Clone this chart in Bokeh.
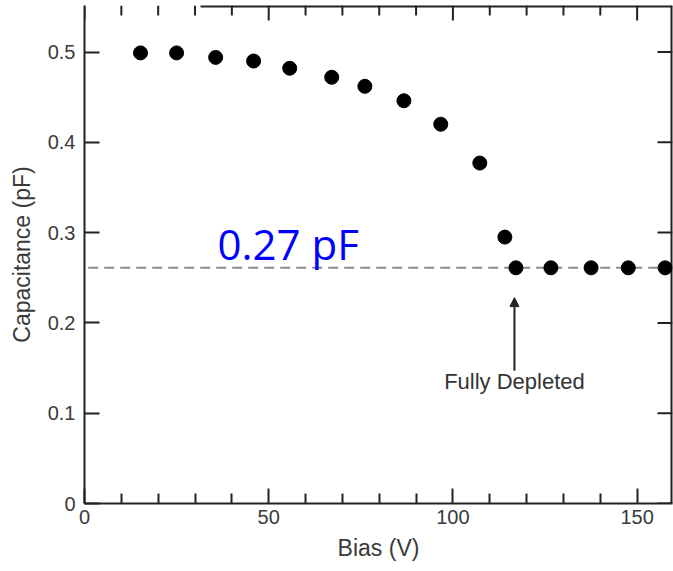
from bokeh.plotting import figure
from bokeh.models import Range1d, FixedTicker, Label, Arrow, NormalHead
from bokeh.embed import file_html
from bokeh.resources import INLINE

# ---- data ----
bias = [15.2, 25.0, 35.6, 45.9, 55.7, 67.1, 76.1, 86.7, 96.7, 107.3,
        114.1, 117.1, 126.6, 137.5, 147.6, 157.6]
capacitance = [0.499, 0.499, 0.494, 0.490, 0.482, 0.472, 0.462, 0.446, 0.420, 0.377,
               0.295, 0.261, 0.261, 0.261, 0.261, 0.261]
full_depletion_level = 0.261
dash_x = [1.0, 160.0]
x_ticks = [0, 50, 100, 150]
x_minor_ticks = [10, 20, 30, 40, 60, 70, 80, 90, 110, 120, 130, 140]
y_ticks = [0, 0.1, 0.2, 0.3, 0.4, 0.5]
y_tick_labels = ["0", "0.1", "0.2", "0.3", "0.4", "0.5"]
annotation_text = "0.27 pF"
arrow_text = "Fully Depleted"
arrow_x = 116.7
arrow_y = [0.147, 0.228]

# ---- layout ----
W, H = 673, 571
B_LEFT, B_RIGHT, B_TOP, B_BOTTOM = 84, 1, 5, 68
X0, X1 = 0.0, 159.6
Y0, Y1 = 0.0, 0.5515
FRAME_W = W - B_LEFT - B_RIGHT
FRAME_H = H - B_TOP - B_BOTTOM
PX_X = FRAME_W / (X1 - X0)
PX_Y = FRAME_H / (Y1 - Y0)
MAJOR_LEN, MINOR_LEN = 15, 10
TOP_GAP_END = 31.5  # top border missing at the far left in the reference

FONT = "Liberation Sans"
AXC = "#222222"
TXT = "#3a3a3a"

p = figure(width=W, height=H, output_backend="svg", toolbar_location=None,
           x_range=Range1d(X0, X1), y_range=Range1d(Y0, Y1),
           min_border_left=B_LEFT, min_border_right=B_RIGHT,
           min_border_top=B_TOP, min_border_bottom=B_BOTTOM,
           background_fill_color="white", border_fill_color="white")
p.grid.visible = False
p.outline_line_color = None

for ax in (p.xaxis[0], p.yaxis[0]):
    ax.axis_line_color = AXC
    ax.axis_line_width = 2
    ax.major_tick_line_color = AXC
    ax.major_tick_line_width = 2
    ax.minor_tick_line_color = AXC
    ax.minor_tick_line_width = 2
    ax.major_tick_in = MAJOR_LEN
    ax.major_tick_out = 0
    ax.minor_tick_in = MINOR_LEN
    ax.minor_tick_out = 0
    ax.major_label_text_font = FONT
    ax.major_label_text_font_size = "20px"
    ax.major_label_text_color = TXT
    ax.axis_label_text_font = FONT
    ax.axis_label_text_font_size = "23px"
    ax.axis_label_text_font_style = "normal"
    ax.axis_label_text_color = TXT

xa = p.xaxis[0]
xa.ticker = FixedTicker(ticks=x_ticks, minor_ticks=x_minor_ticks)
xa.major_label_standoff = 6
xa.axis_label = "Bias (V)"
xa.axis_label_standoff = 8

ya = p.yaxis[0]
ya.ticker = FixedTicker(ticks=y_ticks, minor_ticks=[])
ya.major_label_overrides = {t: l for t, l in zip(y_ticks, y_tick_labels)}
ya.major_label_standoff = 9
ya.axis_label = "Capacitance (pF)"
ya.axis_label_standoff = 10

# top and right frame borders (drawn as glyphs, clipped to the frame -> 2px visible)
p.segment(x0=[TOP_GAP_END, X1], y0=[Y1, Y0], x1=[X1, X1], y1=[Y1, Y1],
          line_color=AXC, line_width=4)

# top ticks (pointing down) and right ticks (pointing left)
top_x = x_ticks + x_minor_ticks
top_len = [MAJOR_LEN] * len(x_ticks) + [MINOR_LEN] * len(x_minor_ticks)
p.segment(x0=top_x, y0=[Y1] * len(top_x), x1=top_x,
          y1=[Y1 - l / PX_Y for l in top_len], line_color=AXC, line_width=2)
p.segment(x0=[X1] * len(y_ticks), y0=y_ticks, x1=[X1 - MAJOR_LEN / PX_X] * len(y_ticks),
          y1=y_ticks, line_color=AXC, line_width=2)

# dashed full-depletion line
p.line(dash_x, [full_depletion_level] * len(dash_x), line_color="#8a8a8a",
       line_width=2, line_dash="10 6")

p.scatter(bias, capacitance, size=14, fill_color="black", line_color="black")

p.add_layout(Arrow(end=NormalHead(size=9, fill_color=AXC, line_color=AXC),
                   x_start=arrow_x, y_start=arrow_y[0], x_end=arrow_x, y_end=arrow_y[1],
                   line_color=AXC, line_width=2))
p.add_layout(Label(x=arrow_x, y=arrow_y[0] - 0.012, text=arrow_text, text_font=FONT,
                   text_font_size="22px", text_color="#333333", text_align="center",
                   text_baseline="middle"))
p.add_layout(Label(x=36.1, y=0.288, text=annotation_text, text_font="Open Sans",
                   text_font_size="42px", text_color="#0000ff", text_align="left",
                   text_baseline="alphabetic"))

open("out.html", "w").write(file_html(p, INLINE))
